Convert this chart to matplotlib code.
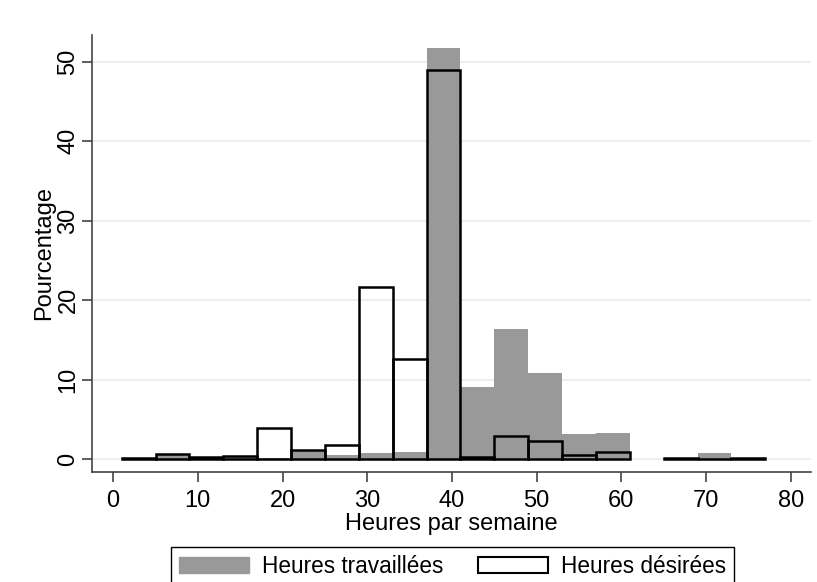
import matplotlib.pyplot as plt
from matplotlib.patches import Patch

plt.rcParams['font.family'] = ['Liberation Sans', 'DejaVu Sans']

# bins of 4 hours, left edges
bin_left = [1, 5, 9, 13, 17, 21, 25, 29, 33, 37, 41, 45, 49, 53, 57, 61, 65, 69, 73, 77]
bin_width = 4

# percentages
worked = [0.1, 0.55, 0.2, 0.3, 0.1, 1.0, 0.5, 0.8, 0.9, 51.7,
          9.0, 16.3, 10.8, 3.1, 3.3, 0.05, 0.05, 0.8, 0.05, 0.05]
desired = [0.1, 0.6, 0.3, 0.4, 3.9, 1.1, 1.8, 21.6, 12.6, 48.9,
           0.3, 2.9, 2.3, 0.5, 0.9, 0.0, 0.1, 0.05, 0.1, 0.0]

labels = ['Heures travaillées', 'Heures désirées']
xticks = [0, 10, 20, 30, 40, 50, 60, 70, 80]
yticks = [0, 10, 20, 30, 40, 50]

gray = '#999999'
axcol = '#444444'

fig = plt.figure(figsize=(8.17, 5.82), dpi=100)
ax = fig.add_axes([92 / 817, 1 - 472 / 582, (811 - 92) / 817, (472 - 35) / 582])

ax.bar(bin_left, worked, width=bin_width, align='edge', color=gray,
       edgecolor='none', zorder=2)
hl = [b for b, v in zip(bin_left, desired) if v > 0]
hv = [v for v in desired if v > 0]
ax.bar(hl, hv, width=bin_width, align='edge', facecolor='none',
       edgecolor='black', linewidth=1.8, zorder=3)

ax.set_xlim(-2.5, 82.4)
ax.set_ylim(-1.64, 53.36)
ax.set_xticks(xticks)
ax.set_yticks(yticks)
ax.grid(axis='y', color='#e4edf0', linewidth=1.2, zorder=0)
ax.set_axisbelow(True)

for s in ['top', 'right']:
    ax.spines[s].set_visible(False)
for s in ['left', 'bottom']:
    ax.spines[s].set_color(axcol)
    ax.spines[s].set_linewidth(1.2)

ax.tick_params(axis='both', colors=axcol, labelcolor='black', labelsize=17,
               length=7, width=1.2)
ax.tick_params(axis='x', pad=6)
ax.tick_params(axis='y', pad=2)
plt.setp(ax.get_yticklabels(), rotation=90, va='center')

ax.set_xlabel('Heures par semaine', fontsize=17, labelpad=1)
ax.set_ylabel('Pourcentage', fontsize=17, labelpad=2)

handles = [Patch(facecolor=gray, edgecolor=gray),
           Patch(facecolor='white', edgecolor='black', linewidth=1.5)]
leg = fig.legend(handles, labels, loc='upper center', ncol=2,
                 bbox_to_anchor=(452.5 / 817, 35 / 582), fontsize=16.3,
                 fancybox=False, edgecolor='black', framealpha=1,
                 borderaxespad=0, handlelength=3.1, handleheight=0.75,
                 handletextpad=0.6, columnspacing=1.5, borderpad=0.35)
leg.get_frame().set_linewidth(1.0)

fig.savefig('out.png', dpi=100)
